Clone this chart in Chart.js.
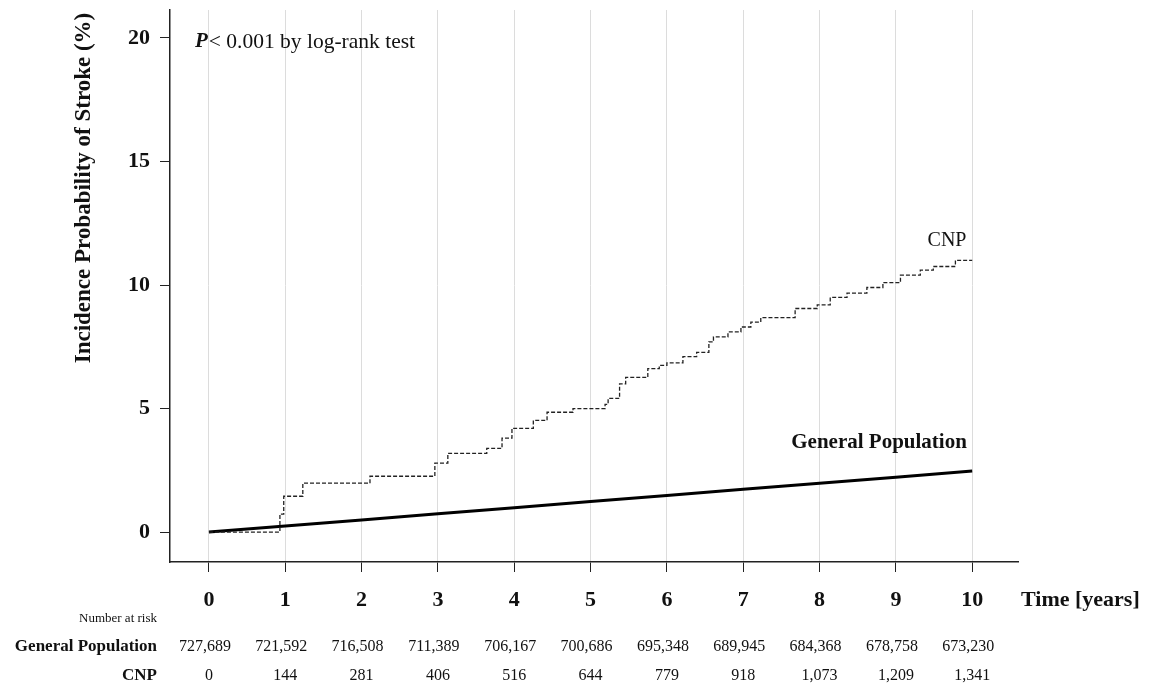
<!DOCTYPE html>
<html>
<head>
<meta charset="utf-8">
<style>
  html, body { margin: 0; padding: 0; background: #fff; }
  #wrap { width: 1162px; height: 687px; }
</style>
</head>
<body>
<div id="wrap"><canvas id="Grafica" width="1162" height="687"></canvas></div>
<script src="https://cdn.jsdelivr.net/npm/chart.js"></script>
<script>
// years of follow-up
const years = [0, 1, 2, 3, 4, 5, 6, 7, 8, 9, 10];
const yTicks = [0, 5, 10, 15, 20];

// CNP cumulative incidence (%) - step points (time in years, value)
const cnpTime  = [0, 0.93, 0.98, 1.23, 2.11, 2.96, 3.13, 3.64, 3.84, 3.97, 4.25, 4.43, 4.77, 5.19, 5.23, 5.38, 5.46, 5.75, 5.9, 6.0, 6.21, 6.39, 6.55, 6.61, 6.8, 6.97, 7.1, 7.23, 7.68, 7.97, 8.14, 8.36, 8.62, 8.83, 9.06, 9.32, 9.49, 9.78, 10.0];
const cnpValue = [0, 0.73, 1.45, 1.98, 2.26, 2.79, 3.19, 3.39, 3.80, 4.20, 4.52, 4.85, 5.0, 5.17, 5.41, 6.0, 6.26, 6.62, 6.75, 6.85, 7.1, 7.27, 7.7, 7.9, 8.1, 8.3, 8.5, 8.68, 9.05, 9.2, 9.5, 9.67, 9.9, 10.1, 10.4, 10.6, 10.75, 11.0, 11.0];

// General population cumulative incidence (%)
const gpValue = [0, 0.25, 0.49, 0.74, 0.99, 1.24, 1.48, 1.73, 1.98, 2.22, 2.47];

// number at risk
const riskGeneral = [727689, 721592, 716508, 711389, 706167, 700686, 695348, 689945, 684368, 678758, 673230];
const riskCNP     = [0, 144, 281, 406, 516, 644, 779, 918, 1073, 1209, 1341];

const serif = "'Liberation Serif', 'Times New Roman', serif";
const ink = '#111';

const textos = {
  id: 'textos',
  afterDraw(chart) {
    const ctx = chart.ctx;
    const x = chart.scales.x, y = chart.scales.y;
    ctx.save();
    ctx.fillStyle = ink;
    ctx.textBaseline = 'middle';

    // y axis title
    ctx.save();
    ctx.translate(84, 188);
    ctx.rotate(-Math.PI / 2);
    ctx.textAlign = 'center';
    ctx.font = 'bold 23px ' + serif;
    ctx.fillText('Incidence Probability of Stroke (%)', 0, 0);
    ctx.restore();

    // p value
    ctx.textAlign = 'left';
    ctx.font = 'italic bold 21px ' + serif;
    ctx.fillText('P', 195, 42);
    const wP = ctx.measureText('P').width;
    ctx.font = '21.5px ' + serif;
    ctx.fillText('< 0.001 by log-rank test', 195 + wP + 1, 42);

    // line labels
    ctx.textAlign = 'center';
    ctx.font = '20px ' + serif;
    ctx.fillText('CNP', x.getPixelForValue(9.67), y.getPixelForValue(11.78));
    ctx.font = 'bold 21px ' + serif;
    ctx.fillText('General Population', x.getPixelForValue(8.78), y.getPixelForValue(3.64));

    // axis title
    ctx.textAlign = 'left';
    ctx.font = 'bold 22px ' + serif;
    ctx.fillText('Time [years]', 1021, 600);

    // number at risk table
    ctx.textAlign = 'right';
    ctx.font = '13px ' + serif;
    ctx.fillText('Number at risk', 157, 619);
    ctx.font = 'bold 17px ' + serif;
    ctx.fillText('General Population', 157, 647);
    ctx.fillText('CNP', 157, 676);

    ctx.textAlign = 'center';
    ctx.font = '16px ' + serif;
    years.forEach((t, i) => {
      const px = x.getPixelForValue(t);
      ctx.fillText(riskGeneral[i].toLocaleString('en-US'), px - 4, 647);
      ctx.fillText(riskCNP[i].toLocaleString('en-US'), px, 676);
    });
    ctx.restore();
  }
};

new Chart(document.getElementById('Grafica'), {
  type: 'line',
  data: {
    datasets: [
      {
        label: 'CNP',
        data: cnpTime.map((t, i) => ({ x: t, y: cnpValue[i] })),
        borderColor: '#222',
        borderWidth: 1.3,
        borderDash: [4, 2],
        stepped: 'before',
        pointRadius: 0,
        fill: false
      },
      {
        label: 'General Population',
        data: years.map((t, i) => ({ x: t, y: gpValue[i] })),
        borderColor: '#000',
        borderWidth: 3,
        pointRadius: 0,
        tension: 0,
        fill: false
      }
    ]
  },
  options: {
    responsive: false,
    animation: false,
    layout: { padding: { left: 0, right: 144, top: 10, bottom: 0 } },
    plugins: {
      legend: { display: false },
      tooltip: { enabled: false }
    },
    scales: {
      x: {
        type: 'linear',
        min: -0.51,
        max: 10.6,
        afterBuildTicks: s => { s.ticks = years.map(v => ({ value: v })); },
        afterFit: s => { s.height = 125; s.paddingLeft = 0; s.paddingRight = 0; },
        grid: {
          color: '#dcdcdc',
          lineWidth: 1,
          tickColor: '#222',
          tickLength: 10,
          drawOnChartArea: true
        },
        border: { display: true, color: '#222', width: 1.5 },
        ticks: {
          color: ink,
          padding: 15,
          maxRotation: 0,
          font: { family: serif, size: 22, weight: 'bold' }
        }
      },
      y: {
        type: 'linear',
        min: -1.21,
        max: 21.13,
        afterBuildTicks: s => { s.ticks = yTicks.map(v => ({ value: v })); },
        afterFit: s => { s.width = 170; s.paddingTop = 0; s.paddingBottom = 0; },
        grid: {
          drawOnChartArea: false,
          tickColor: '#222',
          tickLength: 10
        },
        border: { display: true, color: '#222', width: 1.5 },
        ticks: {
          color: ink,
          padding: 10,
          font: { family: serif, size: 22, weight: 'bold' }
        }
      }
    }
  },
  plugins: [textos]
});
</script>
</body>
</html>
